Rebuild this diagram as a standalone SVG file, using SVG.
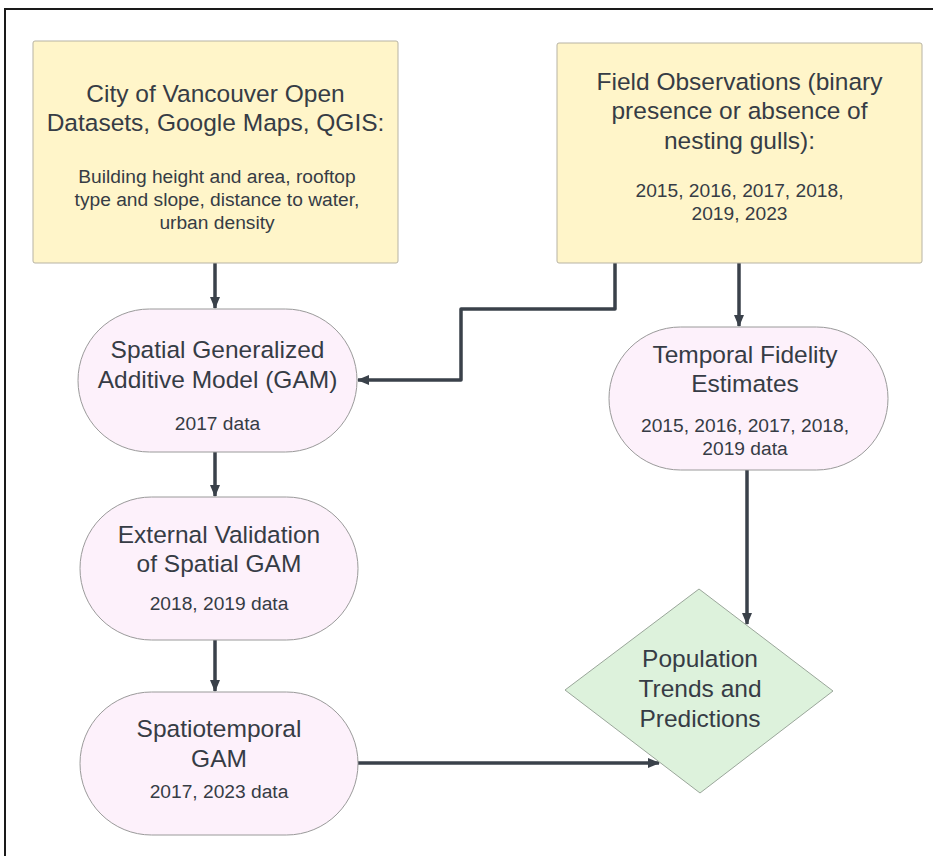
<svg xmlns="http://www.w3.org/2000/svg" width="933" height="856" viewBox="0 0 933 856">
<style>
.src{fill:#fff5c9;stroke:#b7b3a4;stroke-width:1}
.proc{fill:#fdf1fb;stroke:#9a9a9a;stroke-width:1}
.dec{fill:#ddf2dc;stroke:#9aa69a;stroke-width:1}
text{font-family:"Liberation Sans",Arial,sans-serif;fill:#363c45;text-anchor:middle}
.t{font-size:24.5px}
.s{font-size:19.2px}
.c{fill:none;stroke:#3a414a;stroke-width:3.5;stroke-linejoin:round}
</style>
<defs>
<marker id="ah" viewBox="0 0 12 10" refX="11" refY="5" markerWidth="12" markerHeight="10" markerUnits="userSpaceOnUse" orient="auto">
<path d="M0,0 L12,5 L0,10 Z" fill="#3a414a"/>
</marker>
</defs>
<rect x="0" y="0" width="933" height="856" fill="#ffffff"/>
<rect x="5" y="9" width="940" height="860" fill="none" stroke="#1a1a1a" stroke-width="2"/>

<g id="connectors">
<path class="c" d="M215,263 V308" marker-end="url(#ah)"/>
<path class="c" d="M215,452 V496" marker-end="url(#ah)"/>
<path class="c" d="M215,640 V691" marker-end="url(#ah)"/>
<path class="c" d="M739,263 V326" marker-end="url(#ah)"/>
<path class="c" d="M615,263 V309 H461 V380 H358" marker-end="url(#ah)"/>
<path class="c" d="M747,470 V624" marker-end="url(#ah)"/>
<path class="c" d="M358,763 H659" marker-end="url(#ah)"/>
</g>

<g id="node-vancouver">
<rect class="src" x="33" y="41" width="365" height="222" rx="2"/>
<text class="t" x="215.5" y="102">City of Vancouver Open</text>
<text class="t" x="215.5" y="131">Datasets, Google Maps, QGIS:</text>
<text class="s" x="217" y="183">Building height and area, rooftop</text>
<text class="s" x="217" y="206">type and slope, distance to water,</text>
<text class="s" x="217" y="229">urban density</text>
</g>

<g id="node-field">
<rect class="src" x="557" y="43" width="365" height="220" rx="2"/>
<text class="t" x="739.5" y="90">Field Observations (binary</text>
<text class="t" x="739.5" y="119">presence or absence of</text>
<text class="t" x="739.5" y="149">nesting gulls):</text>
<text class="s" x="739.5" y="197">2015, 2016, 2017, 2018,</text>
<text class="s" x="739.5" y="220">2019, 2023</text>
</g>

<g id="node-spatial-gam">
<rect class="proc" x="78" y="309" width="279" height="143" rx="71.5"/>
<text class="t" x="217.5" y="358">Spatial Generalized</text>
<text class="t" x="217.5" y="388">Additive Model (GAM)</text>
<text class="s" x="217.5" y="430">2017 data</text>
</g>

<g id="node-temporal">
<rect class="proc" x="609" y="327" width="279" height="143" rx="71.5"/>
<text class="t" x="745" y="363">Temporal Fidelity</text>
<text class="t" x="745" y="392">Estimates</text>
<text class="s" x="745" y="432">2015, 2016, 2017, 2018,</text>
<text class="s" x="745" y="455">2019 data</text>
</g>

<g id="node-validation">
<rect class="proc" x="80" y="497" width="278" height="143" rx="71.5"/>
<text class="t" x="219" y="543">External Validation</text>
<text class="t" x="219" y="572">of Spatial GAM</text>
<text class="s" x="219" y="610">2018, 2019 data</text>
</g>

<g id="node-spatiotemporal">
<rect class="proc" x="80" y="692" width="278" height="143" rx="71.5"/>
<text class="t" x="219" y="737">Spatiotemporal</text>
<text class="t" x="219" y="767">GAM</text>
<text class="s" x="219" y="798">2017, 2023 data</text>
</g>

<g id="node-population">
<polygon class="dec" points="699,589 833,691 700,793 565,690"/>
<text class="t" x="700" y="667">Population</text>
<text class="t" x="700" y="697">Trends and</text>
<text class="t" x="700" y="727">Predictions</text>
</g>
</svg>
